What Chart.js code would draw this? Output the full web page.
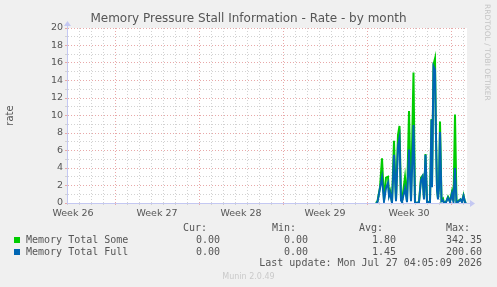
<!DOCTYPE html>
<html>
<head>
<meta charset="utf-8">
<script src="https://cdn.jsdelivr.net/npm/chart.js@4"></script>
<style>
    html, body { margin: 0; padding: 0; background: #f0f0f0; }
    #graph { position: relative; width: 497px; height: 287px; background: #f0f0f0; overflow: hidden; }
    #graph canvas { position: absolute; left: 0; top: 0; }
    .t { position: absolute; white-space: pre; color: #555; }
    .title { left: 0; width: 497px; top: 11px; text-align: center; font: 12px "DejaVu Sans", sans-serif; }
    .mono { font: 10px "DejaVu Sans Mono", monospace; line-height: 12px; }
    .r { text-align: right; }
    .swatch { position: absolute; width: 6px; height: 6px; }
    .rrd { right: 5px; top: 4px; writing-mode: vertical-rl; font: 7.5px "DejaVu Sans", sans-serif; color: #c4c4c4; }
    .munin { left: 0; width: 497px; top: 272px; text-align: center; font: 8px "DejaVu Sans", sans-serif; color: #cacaca; }
</style>
</head>
<body>
<div id="graph">
    <canvas id="psiChart" width="497" height="287"></canvas>
    <div class="t title">Memory Pressure Stall Information - Rate - by month</div>
    <div class="t rrd">RRDTOOL / TOBI OETIKER</div>

    <div class="t mono r" style="right:290px; top:222px;">Cur:</div>
    <div class="t mono r" style="right:201px; top:222px;">Min:</div>
    <div class="t mono r" style="right:114px; top:222px;">Avg:</div>
    <div class="t mono r" style="right:27px; top:222px;">Max:</div>

    <div class="swatch" style="left:14px; top:237px; background:#00cc00;"></div>
    <div class="t mono" style="left:26px; top:234px;">Memory Total Some</div>
    <div class="t mono r" style="right:277px; top:234px;">0.00</div>
    <div class="t mono r" style="right:189px; top:234px;">0.00</div>
    <div class="t mono r" style="right:101px; top:234px;">1.80</div>
    <div class="t mono r" style="right:15px; top:234px;">342.35</div>

    <div class="swatch" style="left:14px; top:249px; background:#0066b3;"></div>
    <div class="t mono" style="left:26px; top:246px;">Memory Total Full</div>
    <div class="t mono r" style="right:277px; top:246px;">0.00</div>
    <div class="t mono r" style="right:189px; top:246px;">0.00</div>
    <div class="t mono r" style="right:101px; top:246px;">1.45</div>
    <div class="t mono r" style="right:15px; top:246px;">200.60</div>

    <div class="t mono r" style="right:15px; top:257px;">Last update: Mon Jul 27 04:05:09 2026</div>
    <div class="t munin">Munin 2.0.49</div>
</div>

<script>
// x axis is hours since the left edge of the graph (400 px = 800 h, one sample per 2 h)
const rangeHours = 800;
const weekStartHours = [96, 264, 432, 600, 768];
const weekLabelHours = [12, 180, 348, 516, 684];
const weekLabels = ['Week 26', 'Week 27', 'Week 28', 'Week 29', 'Week 30'];

const sampleHours = [
    618, 621, 626, 630, 634, 638, 642, 644, 646, 650,
    654, 658, 662, 665, 668, 670, 676, 680, 684, 688,
    693, 696, 700, 704, 708, 711, 714, 717, 720, 722,
    726, 729, 730, 733, 736, 738, 740, 742, 744, 746,
    749, 752, 754, 758, 762, 766, 770, 773, 776, 779,
    784, 787, 790, 793, 796, 798
];
const someRate = [
    0, 0.2, 1.8, 5.1, 0.3, 2.9, 3.0, 1.0, 1.4, 0.1,
    7.1, 0.3, 7.8, 8.8, 0.4, 0.2, 3.0, 0.2, 10.5, 0.3,
    14.9, 0.1, 0, 0.1, 2.9, 3.1, 0.5, 5.6, 0.2, 0.1,
    0.2, 9.6, 2.0, 15.8, 16.5, 7.6, 1.7, 0.5, 2.0, 9.3,
    0.3, 0.5, 0, 0.1, 0.7, 0.2, 1.3, 0.2, 10.1, 0,
    0.3, 0.4, 0.2, 0.9, 0.1, 0
];
const fullRate = [
    0, 0.1, 1.7, 2.9, 0.2, 1.7, 2.3, 0.8, 1.2, 0,
    5.5, 0.2, 6.5, 7.4, 0.3, 0.1, 1.7, 0.1, 6.1, 0.2,
    8.9, 0, 0, 0.1, 2.6, 3.0, 0.4, 5.5, 0.1, 0.1,
    0.1, 9.5, 1.8, 15.6, 15.2, 7.4, 1.5, 0.4, 1.8, 8.1,
    0.2, 0.3, 0, 0.1, 0.6, 0.1, 1.1, 0.1, 4.0, 0,
    0.2, 0.4, 0.1, 0.8, 0.1, 0
];

const yMax = 20;

const majorGrid = '#e8a8a8';
const minorGrid = '#d2d2d2';
const axisColor = '#c4c8f2';
const textColor = '#555555';

// tick every 12 h: whole days carry grid lines, week middles carry the labels
const xTicks = [];
for (let h = 0; h < rangeHours; h += 12) xTicks.push({ value: h });

function isDay(v) { return v % 24 === 0; }

// plot background and the little axis arrows rrdtool draws
const rrdFrame = {
    id: 'rrdFrame',
    beforeDraw(chart) {
        const { ctx, chartArea: a } = chart;
        ctx.save();
        ctx.fillStyle = '#ffffff';
        ctx.fillRect(a.left, a.top, a.right - a.left, a.bottom - a.top);
        ctx.restore();
    },
    afterDraw(chart) {
        const { ctx, chartArea: a } = chart;
        ctx.save();
        ctx.strokeStyle = axisColor;
        ctx.fillStyle = axisColor;
        ctx.lineWidth = 1;
        ctx.beginPath();
        ctx.moveTo(a.right, a.bottom + 0.5);
        ctx.lineTo(a.right + 4, a.bottom + 0.5);
        ctx.stroke();
        ctx.beginPath();
        ctx.moveTo(a.right + 8, a.bottom + 0.5);
        ctx.lineTo(a.right + 3, a.bottom - 3);
        ctx.lineTo(a.right + 3, a.bottom + 4);
        ctx.closePath();
        ctx.fill();
        ctx.beginPath();
        ctx.moveTo(a.left + 0.5, a.top - 7);
        ctx.lineTo(a.left - 3, a.top - 2);
        ctx.lineTo(a.left + 4, a.top - 2);
        ctx.closePath();
        ctx.fill();
        ctx.beginPath();
        ctx.moveTo(a.left + 0.5, a.top - 2);
        ctx.lineTo(a.left + 0.5, a.top);
        ctx.stroke();
        ctx.restore();
    }
};

const ctx = document.getElementById('psiChart').getContext('2d');
new Chart(ctx, {
    type: 'line',
    data: {
        datasets: [
            {
                label: 'Memory Total Full',
                data: sampleHours.map((h, i) => ({ x: h, y: fullRate[i] })),
                borderColor: '#0066b3',
                borderWidth: 2,
                pointRadius: 0,
                tension: 0,
                order: 0
            },
            {
                label: 'Memory Total Some',
                data: sampleHours.map((h, i) => ({ x: h, y: someRate[i] })),
                borderColor: '#00cc00',
                borderWidth: 2,
                pointRadius: 0,
                tension: 0,
                order: 1
            }
        ]
    },
    options: {
        responsive: false,
        animation: false,
        layout: { padding: { top: 28, right: 30, bottom: 0, left: 0 } },
        plugins: {
            legend: { display: false },
            tooltip: { enabled: false },
            title: { display: false }
        },
        scales: {
            x: {
                type: 'linear',
                min: 0,
                max: rangeHours,
                afterFit: (s) => { s.height = 84; },
                afterBuildTicks: (s) => { s.ticks = xTicks.map(t => ({ value: t.value })); },
                grid: {
                    color: (c) => {
                        const v = c.tick ? c.tick.value : -1;
                        if (!isDay(v)) return 'transparent';
                        return weekStartHours.includes(v) ? majorGrid : minorGrid;
                    },
                    tickLength: 2
                },
                border: { color: axisColor, width: 1, dash: [1, 2] },
                ticks: {
                    autoSkip: false,
                    maxRotation: 0,
                    padding: 3,
                    color: textColor,
                    font: { family: 'DejaVu Sans', size: 9.5 },
                    callback: (v) => {
                        const k = weekLabelHours.indexOf(v);
                        return k >= 0 ? weekLabels[k] : '';
                    }
                }
            },
            y: {
                min: 0,
                max: yMax,
                afterFit: (s) => { s.width = 67; },
                grid: {
                    color: (c) => (c.tick && c.tick.value % 2 === 0 ? majorGrid : minorGrid),
                    tickLength: 2
                },
                border: { color: axisColor, width: 1, dash: [1, 2] },
                ticks: {
                    stepSize: 1,
                    autoSkip: false,
                    padding: 2,
                    color: textColor,
                    font: { family: 'DejaVu Sans', size: 9.5 },
                    callback: (v) => (v % 2 === 0 ? String(v) : '')
                },
                title: {
                    display: true,
                    text: 'rate',
                    color: textColor,
                    font: { family: 'DejaVu Sans', size: 10 }
                }
            }
        }
    },
    plugins: [rrdFrame]
});
</script>
</body>
</html>
